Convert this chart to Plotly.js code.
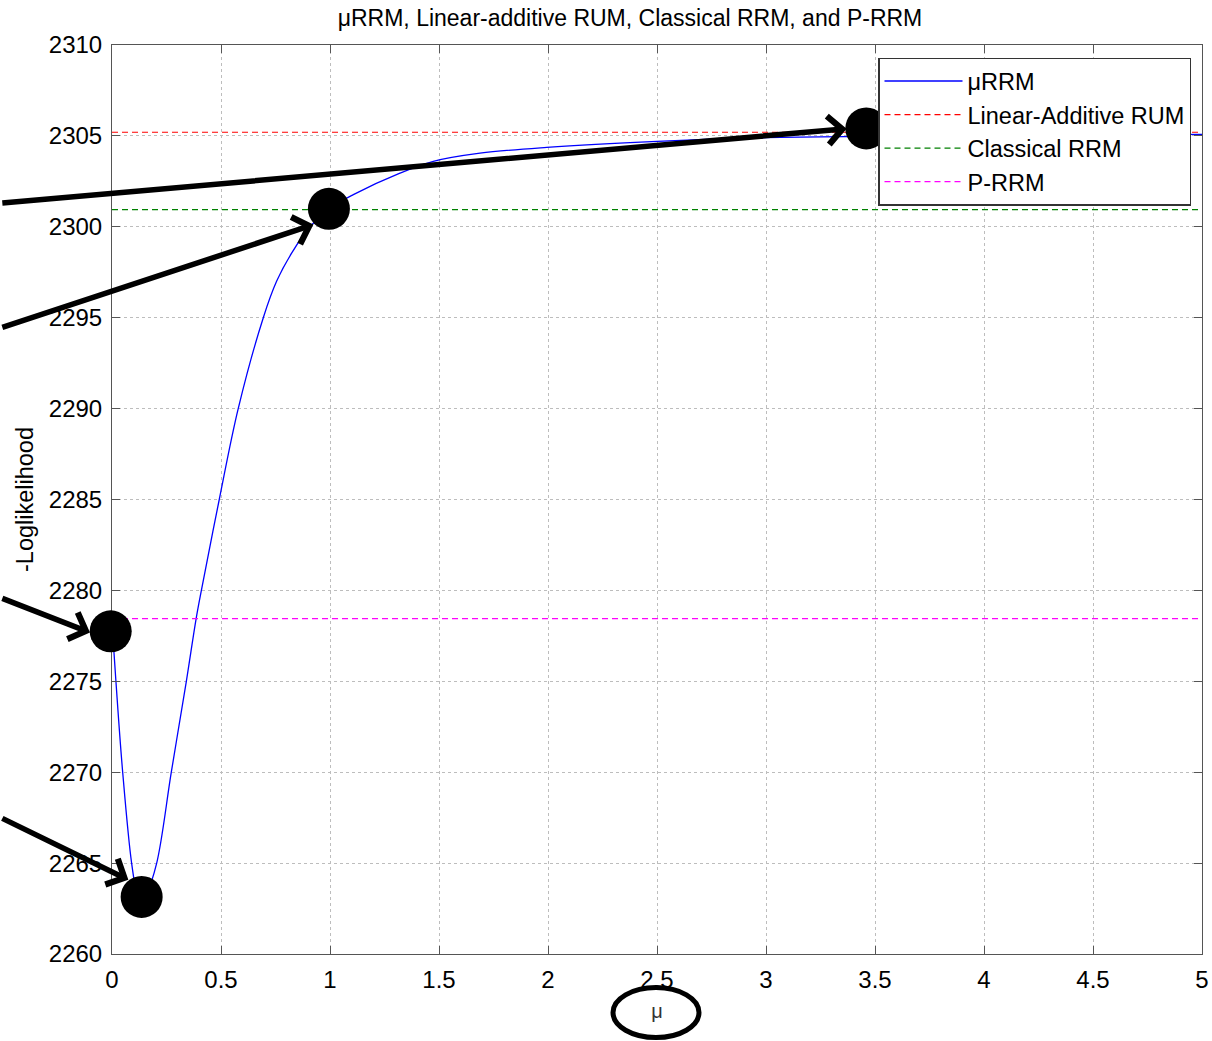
<!DOCTYPE html>
<html>
<head>
<meta charset="utf-8">
<script src="https://cdn.plot.ly/plotly-3.0.1.min.js"></script>
<style>html,body{margin:0;padding:0;background:#fff;}#chart{width:1212px;height:1041px;}</style>
</head>
<body>
<div id="chart"></div>
<script>
// μRRM curve
const muValues = [0, 0.018, 0.049, 0.09, 0.115, 0.136, 0.16, 0.205, 0.272, 0.341, 0.386, 0.41, 0.492, 0.579, 0.694, 0.755, 0.824, 0.908, 0.997, 1.107, 1.321, 1.474, 1.688, 1.994, 2.5, 3.0, 3.5, 4.0, 4.5, 5.0];
const muRRM = [2278.2, 2275, 2270, 2265, 2263.4, 2263.1, 2263.4, 2265, 2270, 2275, 2278.45, 2280, 2285, 2290, 2295, 2297.0, 2298.55, 2300.0, 2301.0, 2301.77, 2302.95, 2303.6, 2304.05, 2304.37, 2304.7, 2304.9, 2304.97, 2305.02, 2305.05, 2305.08];

// constant reference models
const refRange = [0, 5];
const linearAdditiveRUM = 2305.2;
const classicalRRM = 2300.95;
const pRRM = 2278.45;

// highlighted points (black dots) and arrows pointing at them
const highlightMu = [3.46, 0.995, -0.006, 0.136];
const highlightVal = [2305.41, 2300.99, 2277.75, 2263.14];
const arrowHeadMu = [3.37, 0.924, -0.101, 0.075];
const arrowHeadVal = [2305.40, 2300.12, 2277.68, 2264.08];
const arrowTailMu = [-0.51, -0.51, -0.51, -0.51];
const arrowTailVal = [2301.3, 2294.44, 2279.59, 2267.5];

// ticks
const xTickVals = [0, 0.5, 1, 1.5, 2, 2.5, 3, 3.5, 4, 4.5, 5];
const xTickText = ['0', '0.5', '1', '1.5', '2', '2.5', '3', '3.5', '4', '4.5', '5'];
const yTickVals = [2260, 2265, 2270, 2275, 2280, 2285, 2290, 2295, 2300, 2305, 2310];

const W = 1212, plotLeft = 112, plotRight = 1202;
const dash = '6px,4px';
const traces = [
  {x: muValues, y: muRRM, type: 'scatter', mode: 'lines', name: 'μRRM',
   line: {color: '#0000ff', width: 1.3, shape: 'spline', smoothing: 1}},
  {x: refRange, y: [linearAdditiveRUM, linearAdditiveRUM], type: 'scatter', mode: 'lines', name: 'Linear-Additive RUM',
   line: {color: '#ff0000', width: 1.2, dash: dash}},
  {x: refRange, y: [classicalRRM, classicalRRM], type: 'scatter', mode: 'lines', name: 'Classical RRM',
   line: {color: '#008000', width: 1.2, dash: dash}},
  {x: refRange, y: [pRRM, pRRM], type: 'scatter', mode: 'lines', name: 'P-RRM',
   line: {color: '#ff00ff', width: 1.2, dash: dash}},
  // overlay layer spanning the whole width (same data scale) for the hand-drawn dots
  {x: highlightMu, y: highlightVal, xaxis: 'x2', yaxis: 'y2', type: 'scatter', mode: 'markers',
   showlegend: false, cliponaxis: false,
   marker: {color: '#000', size: 42, line: {width: 0}}}
];

const annotations = arrowHeadMu.map((m, i) => ({
  x: m, y: arrowHeadVal[i], xref: 'x2', yref: 'y2',
  ax: arrowTailMu[i], ay: arrowTailVal[i], axref: 'x2', ayref: 'y2',
  text: '', showarrow: true, arrowhead: 4, arrowsize: 1.0, arrowwidth: 5.5,
  arrowcolor: '#000', standoff: 0, startstandoff: 0
}));

const axisCommon = {
  showline: true, linecolor: '#555', linewidth: 1, mirror: 'ticks',
  ticks: 'inside', ticklen: 8, tickcolor: '#555', tickwidth: 1,
  showgrid: true, gridcolor: '#bdbdbd', griddash: 'dot', gridwidth: 1,
  zeroline: false,
  tickfont: {family: 'Liberation Sans, Arial, sans-serif', size: 24, color: '#000'}
};

// x2 spans the whole figure width with the same units-per-pixel as x
const pxPerUnit = (plotRight - plotLeft) / 5;
const x2Range = [-plotLeft / pxPerUnit, 5 + (W - plotRight) / pxPerUnit];

const layout = {
  width: W, height: 1041,
  margin: {l: 0, r: 0, t: 45, b: 87, pad: 0},
  paper_bgcolor: '#fff', plot_bgcolor: 'rgba(0,0,0,0)',
  showlegend: true,
  title: {text: 'μRRM, Linear-additive RUM, Classical RRM, and P-RRM',
          font: {family: 'Liberation Sans, Arial, sans-serif', size: 23, color: '#000'},
          xref: 'paper', x: 630 / W, xanchor: 'center', yref: 'container', y: 0.983, yanchor: 'middle'},
  xaxis: Object.assign({}, axisCommon, {
    domain: [plotLeft / W, plotRight / W],
    range: [0, 5], tickvals: xTickVals, ticktext: xTickText, ticklabelstandoff: 4,
    title: {text: 'μ', font: {family: 'Liberation Sans, Arial, sans-serif', size: 20, color: '#333'}, standoff: 12}
  }),
  yaxis: Object.assign({}, axisCommon, {
    range: [2260, 2310], tickvals: yTickVals, ticklabelstandoff: 4,
    title: {text: '-Loglikelihood', font: {family: 'Liberation Sans, Arial, sans-serif', size: 23.5, color: '#000'}, standoff: 8}
  }),
  xaxis2: {domain: [0, 1], range: x2Range, visible: false, anchor: 'y2', showgrid: false, zeroline: false},
  yaxis2: {domain: [0, 1], range: [2260, 2310], visible: false, anchor: 'x2', showgrid: false, zeroline: false},
  legend: {
    x: 1191 / W, xanchor: 'right', y: 0.986, yanchor: 'top',
    bgcolor: '#fff', bordercolor: '#333', borderwidth: 1.5,
    font: {family: 'Liberation Sans, Arial, sans-serif', size: 23.5, color: '#000'},
    itemwidth: 78, tracegroupgap: 0
  },
  annotations: annotations,
  shapes: [
    {type: 'circle', xref: 'paper', yref: 'paper', x0: 613 / W, x1: 699 / W, y0: -0.0919, y1: -0.0369,
     line: {color: '#000', width: 5}, fillcolor: 'rgba(0,0,0,0)'}
  ]
};

Plotly.newPlot('chart', traces, layout, {displayModeBar: false, staticPlot: true});
</script>
</body>
</html>
